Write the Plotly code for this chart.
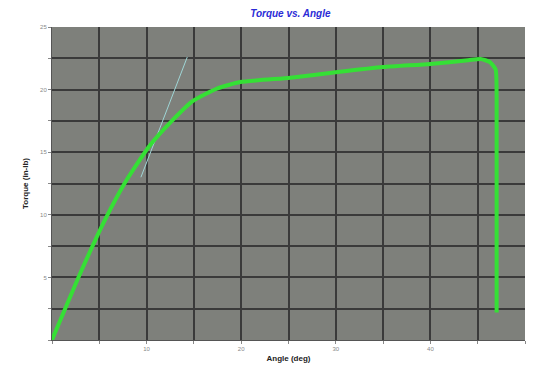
import plotly.graph_objects as go

# Main torque-angle curve
angle_deg = [0.0, 3.0, 5.6, 7.9, 10.3, 12.8, 14.9, 17.5, 19.9, 25.2, 30.2, 35.0, 40.0, 44.0, 45.3, 46.3, 46.9, 47.0, 47.0]
torque_inlb = [0.0, 5.35, 9.6, 12.8, 15.5, 17.6, 19.1, 20.1, 20.6, 20.95, 21.4, 21.8, 22.05, 22.35, 22.45, 22.2, 21.6, 19.4, 2.2]

# Faint elastic (offset) line
offset_angle = [9.4, 14.3]
offset_torque = [13.0, 22.6]

x_tick_vals = [0, 5, 10, 15, 20, 25, 30, 35, 40, 45, 50]
x_tick_text = ["", "", "10", "", "20", "", "30", "", "40", "", ""]
y_tick_vals = [0, 2.5, 5, 7.5, 10, 12.5, 15, 17.5, 20, 22.5, 25]
y_tick_text = ["", "", "5", "", "10", "", "15", "", "20", "", "25"]

fig = go.Figure()
fig.add_trace(go.Scatter(x=offset_angle, y=offset_torque, mode="lines",
                         line=dict(color="#9fd6d6", width=1), hoverinfo="skip"))
fig.add_trace(go.Scatter(x=angle_deg, y=torque_inlb, mode="lines",
                         line=dict(color="#35e035", width=4, shape="spline", smoothing=0.5)))

fig.update_layout(
    width=543, height=367,
    margin=dict(l=44, r=26, t=19, b=35, autoexpand=False),
    paper_bgcolor="white",
    plot_bgcolor="#7e807b",
    showlegend=False,
    font=dict(family="Liberation Sans, Arial, sans-serif", color="#222"),
    title=dict(text="<b><i>Torque vs. Angle</i></b>", x=0.52, xanchor="center",
               y=0.985, yanchor="middle", font=dict(size=10, color="#2b2bd6")),
)
fig.update_xaxes(range=[0, 50], tickmode="array", tickvals=x_tick_vals, ticktext=x_tick_text,
                 showgrid=True, gridcolor="#3a3a3a", gridwidth=1.5, zeroline=False,
                 ticks="outside", ticklen=3, tickcolor="#888",
                 tickfont=dict(size=6, color="#888"),
                 title=dict(text="<b>Angle (deg)</b>", font=dict(size=8, color="#222"), standoff=4),
                 showline=True, linecolor="#555", mirror=False)
fig.update_yaxes(range=[0, 25], tickmode="array", tickvals=y_tick_vals, ticktext=y_tick_text,
                 showgrid=True, gridcolor="#3a3a3a", gridwidth=1.5, zeroline=False,
                 ticks="outside", ticklen=3, tickcolor="#888",
                 tickfont=dict(size=6, color="#888"),
                 title=dict(text="<b>Torque (in-lb)</b>", font=dict(size=8, color="#222"), standoff=10),
                 showline=True, linecolor="#555", mirror=False)

fig.write_html("out.html")
